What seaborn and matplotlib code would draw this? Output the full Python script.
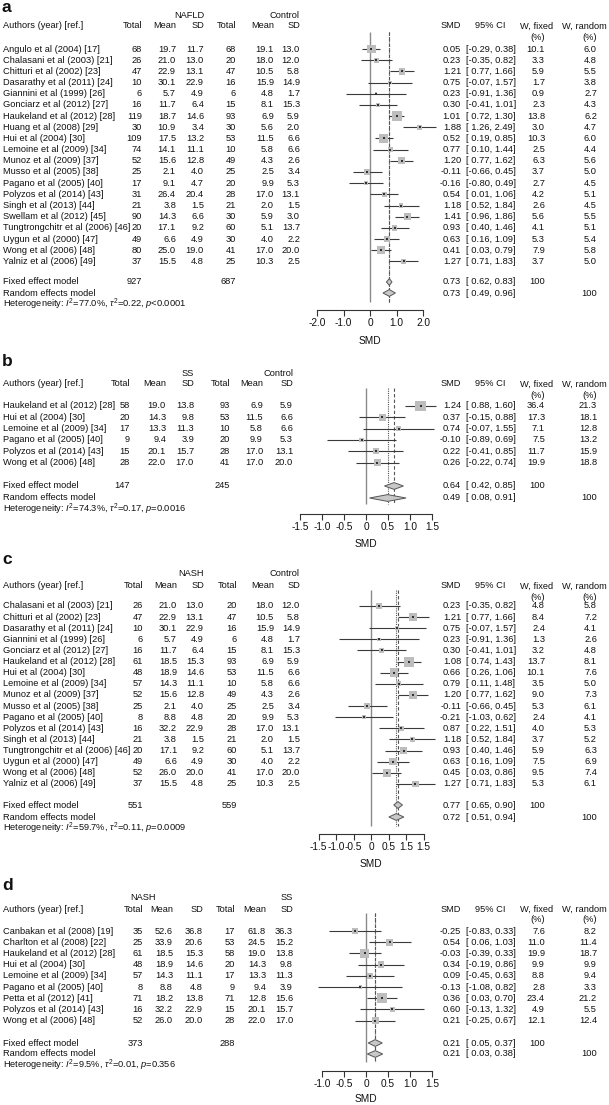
import numpy as np
import pandas as pd
import matplotlib
matplotlib.use("Agg")
import matplotlib.pyplot as plt
import seaborn as sns
from matplotlib.patches import Polygon

sns.set_style("white")
plt.rcParams['font.family'] = ['Liberation Sans', 'DejaVu Sans']
plt.rcParams['mathtext.fontset'] = 'custom'
plt.rcParams['mathtext.rm'] = 'Liberation Sans'
plt.rcParams['mathtext.it'] = 'Liberation Sans:italic'

# ------------------------------------------------------------------ data
# Panel a: NAFLD vs Control
a_study = ["Angulo et al (2004) [17]", "Chalasani et al (2003) [21]", "Chitturi et al (2002) [23]",
           "Dasarathy et al (2011) [24]", "Giannini et al (1999) [26]", "Gonciarz et al (2012) [27]",
           "Haukeland et al (2012) [28]", "Huang et al (2008) [29]", "Hui et al (2004) [30]",
           "Lemoine et al (2009) [34]", "Munoz et al (2009) [37]", "Musso et al (2005) [38]",
           "Pagano et al (2005) [40]", "Polyzos et al (2014) [43]", "Singh et al (2013) [44]",
           "Swellam et al (2012) [45]", "Tungtrongchitr et al (2006) [46]", "Uygun et al (2000) [47]",
           "Wong et al (2006) [48]", "Yalniz et al (2006) [49]"]
a_e_total = [68, 26, 47, 10, 6, 16, 119, 30, 109, 74, 52, 25, 17, 31, 21, 90, 20, 49, 80, 37]
a_e_mean = [19.7, 21.0, 22.9, 30.1, 5.7, 11.7, 18.7, 10.9, 17.5, 14.1, 15.6, 2.1, 9.1, 26.4, 3.8, 14.3, 17.1, 6.6, 25.0, 15.5]
a_e_sd = [11.7, 13.0, 13.1, 22.9, 4.9, 6.4, 14.6, 3.4, 13.2, 11.1, 12.8, 4.0, 4.7, 20.4, 1.5, 6.6, 9.2, 4.9, 19.0, 4.8]
a_c_total = [68, 20, 47, 16, 6, 15, 93, 30, 53, 10, 49, 25, 20, 28, 21, 30, 60, 30, 41, 25]
a_c_mean = [19.1, 18.0, 10.5, 15.9, 4.8, 8.1, 6.9, 5.6, 11.5, 5.8, 4.3, 2.5, 9.9, 17.0, 2.0, 5.9, 5.1, 4.0, 17.0, 10.3]
a_c_sd = [13.0, 12.0, 5.8, 14.9, 1.7, 15.3, 5.9, 2.0, 6.6, 6.6, 2.6, 3.4, 5.3, 13.1, 1.5, 3.0, 13.7, 2.2, 20.0, 2.5]
a_smd = [0.05, 0.23, 1.21, 0.75, 0.23, 0.30, 1.01, 1.88, 0.52, 0.77, 1.20, -0.11, -0.16, 0.54, 1.18, 1.41, 0.93, 0.63, 0.41, 1.27]
a_lo = [-0.29, -0.35, 0.77, -0.07, -0.91, -0.41, 0.72, 1.26, 0.19, 0.10, 0.77, -0.66, -0.80, 0.01, 0.52, 0.96, 0.40, 0.16, 0.03, 0.71]
a_hi = [0.38, 0.82, 1.66, 1.57, 1.36, 1.01, 1.30, 2.49, 0.85, 1.44, 1.62, 0.45, 0.49, 1.06, 1.84, 1.86, 1.46, 1.09, 0.79, 1.83]
a_wfix = [10.1, 3.3, 5.9, 1.7, 0.9, 2.3, 13.8, 3.0, 10.3, 2.5, 6.3, 3.7, 2.7, 4.2, 2.6, 5.6, 4.1, 5.3, 7.9, 3.7]
a_wran = [6.0, 4.8, 5.5, 3.8, 2.7, 4.3, 6.2, 4.7, 6.0, 4.4, 5.6, 5.0, 4.5, 5.1, 4.5, 5.5, 5.1, 5.4, 5.8, 5.0]
a_groups = ["NAFLD", "Control"]
a_totals = [927, 687]
a_fixed = [0.73, 0.62, 0.83]
a_random = [0.73, 0.49, 0.96]
a_het = ["77.0%", "0.22", "<0.0001"]
a_ticks = [-2.0, -1.0, 0.0, 1.0, 2.0]
a_ticklabels = ["-2.0", "-1.0", "0", "1.0", "2.0"]

# Panel b: SS vs Control
b_study = ["Haukeland et al (2012) [28]", "Hui et al (2004) [30]", "Lemoine et al (2009) [34]",
           "Pagano et al (2005) [40]", "Polyzos et al (2014) [43]", "Wong et al (2006) [48]"]
b_e_total = [58, 20, 17, 9, 15, 28]
b_e_mean = [19.0, 14.3, 13.3, 9.4, 20.1, 22.0]
b_e_sd = [13.8, 9.8, 11.3, 3.9, 15.7, 17.0]
b_c_total = [93, 53, 10, 20, 28, 41]
b_c_mean = [6.9, 11.5, 5.8, 9.9, 17.0, 17.0]
b_c_sd = [5.9, 6.6, 6.6, 5.3, 13.1, 20.0]
b_smd = [1.24, 0.37, 0.74, -0.10, 0.22, 0.26]
b_lo = [0.88, -0.15, -0.07, -0.89, -0.41, -0.22]
b_hi = [1.60, 0.88, 1.55, 0.69, 0.85, 0.74]
b_wfix = [36.4, 17.3, 7.1, 7.5, 11.7, 19.9]
b_wran = [21.3, 18.1, 12.8, 13.2, 15.9, 18.8]
b_groups = ["SS", "Control"]
b_totals = [147, 245]
b_fixed = [0.64, 0.42, 0.85]
b_random = [0.49, 0.08, 0.91]
b_het = ["74.3%", "0.17", "=0.0016"]
b_ticks = [-1.5, -1.0, -0.5, 0.0, 0.5, 1.0, 1.5]
b_ticklabels = ["-1.5", "-1.0", "-0.5", "0", "0.5", "1.0", "1.5"]

# Panel c: NASH vs Control
c_study = ["Chalasani et al (2003) [21]", "Chitturi et al (2002) [23]", "Dasarathy et al (2011) [24]",
           "Giannini et al (1999) [26]", "Gonciarz et al (2012) [27]", "Haukeland et al (2012) [28]",
           "Hui et al (2004) [30]", "Lemoine et al (2009) [34]", "Munoz et al (2009) [37]",
           "Musso et al (2005) [38]", "Pagano et al (2005) [40]", "Polyzos et al (2014) [43]",
           "Singh et al (2013) [44]", "Tungtrongchitr et al (2006) [46]", "Uygun et al (2000) [47]",
           "Wong et al (2006) [48]", "Yalniz et al (2006) [49]"]
c_e_total = [26, 47, 10, 6, 16, 61, 48, 57, 52, 25, 8, 16, 21, 20, 49, 52, 37]
c_e_mean = [21.0, 22.9, 30.1, 5.7, 11.7, 18.5, 18.9, 14.3, 15.6, 2.1, 8.8, 32.2, 3.8, 17.1, 6.6, 26.0, 15.5]
c_e_sd = [13.0, 13.1, 22.9, 4.9, 6.4, 15.3, 14.6, 11.1, 12.8, 4.0, 4.8, 22.9, 1.5, 9.2, 4.9, 20.0, 4.8]
c_c_total = [20, 47, 16, 6, 15, 93, 53, 10, 49, 25, 20, 28, 21, 60, 30, 41, 25]
c_c_mean = [18.0, 10.5, 15.9, 4.8, 8.1, 6.9, 11.5, 5.8, 4.3, 2.5, 9.9, 17.0, 2.0, 5.1, 4.0, 17.0, 10.3]
c_c_sd = [12.0, 5.8, 14.9, 1.7, 15.3, 5.9, 6.6, 6.6, 2.6, 3.4, 5.3, 13.1, 1.5, 13.7, 2.2, 20.0, 2.5]
c_smd = [0.23, 1.21, 0.75, 0.23, 0.30, 1.08, 0.66, 0.79, 1.20, -0.11, -0.21, 0.87, 1.18, 0.93, 0.63, 0.45, 1.27]
c_lo = [-0.35, 0.77, -0.07, -0.91, -0.41, 0.74, 0.26, 0.11, 0.77, -0.66, -1.03, 0.22, 0.52, 0.40, 0.16, 0.03, 0.71]
c_hi = [0.82, 1.66, 1.57, 1.36, 1.01, 1.43, 1.06, 1.48, 1.62, 0.45, 0.62, 1.51, 1.84, 1.46, 1.09, 0.86, 1.83]
c_wfix = [4.8, 8.4, 2.4, 1.3, 3.2, 13.7, 10.1, 3.5, 9.0, 5.3, 2.4, 4.0, 3.7, 5.9, 7.5, 9.5, 5.3]
c_wran = [5.8, 7.2, 4.1, 2.6, 4.8, 8.1, 7.6, 5.0, 7.3, 6.1, 4.1, 5.3, 5.2, 6.3, 6.9, 7.4, 6.1]
c_groups = ["NASH", "Control"]
c_totals = [551, 559]
c_fixed = [0.77, 0.65, 0.90]
c_random = [0.72, 0.51, 0.94]
c_het = ["59.7%", "0.11", "=0.0009"]
c_ticks = [-1.5, -1.0, -0.5, 0.0, 0.5, 1.0, 1.5]
c_ticklabels = ["-1.5", "-1.0", "-0.5", "0", "0.5", "1.5", "1.5"]

# Panel d: NASH vs SS
d_study = ["Canbakan et al (2008) [19]", "Charlton et al (2008) [22]", "Haukeland et al (2012) [28]",
           "Hui et al (2004) [30]", "Lemoine et al (2009) [34]", "Pagano et al (2005) [40]",
           "Petta et al (2012) [41]", "Polyzos et al (2014) [43]", "Wong et al (2006) [48]"]
d_e_total = [35, 25, 61, 48, 57, 8, 71, 16, 52]
d_e_mean = [52.6, 33.9, 18.5, 18.9, 14.3, 8.8, 18.2, 32.2, 26.0]
d_e_sd = [36.8, 20.6, 15.3, 14.6, 11.1, 4.8, 13.8, 22.9, 20.0]
d_c_total = [17, 53, 58, 20, 17, 9, 71, 15, 28]
d_c_mean = [61.8, 24.5, 19.0, 14.3, 13.3, 9.4, 12.8, 20.1, 22.0]
d_c_sd = [36.3, 15.2, 13.8, 9.8, 11.3, 3.9, 15.6, 15.7, 17.0]
d_smd = [-0.25, 0.54, -0.03, 0.34, 0.09, -0.13, 0.36, 0.60, 0.21]
d_lo = [-0.83, 0.06, -0.39, -0.19, -0.45, -1.08, 0.03, -0.13, -0.25]
d_hi = [0.33, 1.03, 0.33, 0.86, 0.63, 0.82, 0.70, 1.32, 0.67]
d_wfix = [7.6, 11.0, 19.9, 9.9, 8.8, 2.8, 23.4, 4.9, 12.1]
d_wran = [8.2, 11.4, 18.7, 9.9, 9.4, 3.3, 21.2, 5.5, 12.4]
d_groups = ["NASH", "SS"]
d_totals = [373, 288]
d_fixed = [0.21, 0.05, 0.37]
d_random = [0.21, 0.03, 0.38]
d_het = ["9.5%", "0.01", "=0.356"]
d_ticks = [-1.0, -0.5, 0.0, 0.5, 1.0, 1.5]
d_ticklabels = ["-1.0", "-0.5", "0", "0.5", "1.0", "1.5"]

panel_labels = ["a", "b", "c", "d"]

# ------------------------------------------------------------------ layout (pixels)
W, H = 609, 1105
layouts = {
    "a": dict(label_y=8, grp_y=15, head_y=26, row0=49, dy=11.18, fixed_y=282, rand_y=293, het_y=304,
              axis_y=310, xlab_y=341, vtop=32, vbot=302, zero=370, unit=26.5,
              cols=(142, 176, 204, 236, 274, 300), grp_x=(204, 300)),
    "b": dict(label_y=362, grp_y=373, head_y=384, row0=406, dy=11.3, fixed_y=486, rand_y=498, het_y=509,
              axis_y=514, xlab_y=544, vtop=388, vbot=504, zero=366, unit=44.0,
              cols=(130, 166, 194, 230, 263, 293), grp_x=(194, 293)),
    "c": dict(label_y=560, grp_y=574, head_y=586, row0=606, dy=11.12, fixed_y=805, rand_y=817, het_y=828,
              axis_y=834, xlab_y=864, vtop=590, vbot=826, zero=371, unit=35.0,
              cols=(143, 177, 204, 237, 274, 300), grp_x=(204, 300)),
    "d": dict(label_y=885, grp_y=897, head_y=909, row0=931, dy=11.2, fixed_y=1043, rand_y=1054, het_y=1065,
              axis_y=1071, xlab_y=1099, vtop=913, vbot=1062, zero=366, unit=44.0,
              cols=(143, 173, 203, 235, 266, 293), grp_x=(156, 293)),
}
SMD_X, CI_X, WF_X, WR_X = 461, 466, 545, 597
FS = 6.7
TXT = "#111111"

fig = plt.figure(figsize=(W / 100, H / 100), dpi=100)
canvas = fig.add_axes([0, 0, 1, 1])
canvas.set_xlim(0, W)
canvas.set_ylim(H, 0)
canvas.axis("off")


def T(x, y, s, ha="left", fs=FS, **kw):
    canvas.text(x, y, s, ha=ha, va="center", fontsize=fs, color=TXT, **kw)


def ci_str(lo, hi):
    return "[" + f"{lo:5.2f}" + ", " + f"{hi:.2f}" + "]"


panels = {
    "a": (a_study, a_e_total, a_e_mean, a_e_sd, a_c_total, a_c_mean, a_c_sd, a_smd, a_lo, a_hi, a_wfix, a_wran,
          a_groups, a_totals, a_fixed, a_random, a_het, a_ticks, a_ticklabels),
    "b": (b_study, b_e_total, b_e_mean, b_e_sd, b_c_total, b_c_mean, b_c_sd, b_smd, b_lo, b_hi, b_wfix, b_wran,
          b_groups, b_totals, b_fixed, b_random, b_het, b_ticks, b_ticklabels),
    "c": (c_study, c_e_total, c_e_mean, c_e_sd, c_c_total, c_c_mean, c_c_sd, c_smd, c_lo, c_hi, c_wfix, c_wran,
          c_groups, c_totals, c_fixed, c_random, c_het, c_ticks, c_ticklabels),
    "d": (d_study, d_e_total, d_e_mean, d_e_sd, d_c_total, d_c_mean, d_c_sd, d_smd, d_lo, d_hi, d_wfix, d_wran,
          d_groups, d_totals, d_fixed, d_random, d_het, d_ticks, d_ticklabels),
}

for key in panel_labels:
    (study, et, em, esd, ct, cm, csd, smd, lo, hi, wf, wr,
     groups, totals, fixed, rand, het, ticks, ticklabels) = panels[key]
    L = layouts[key]
    n = len(study)
    ys = L["row0"] + L["dy"] * np.arange(n)
    cols = L["cols"]

    # ----- left table
    T(2, L["label_y"], key, fs=12.5, fontweight="bold")
    T(L["grp_x"][0], L["grp_y"], groups[0], ha="right")
    T(L["grp_x"][1], L["grp_y"], groups[1], ha="right")
    T(3, L["head_y"], "Authors (year) [ref.]")
    for x, h in zip(cols, ["Total", "Mean", "SD", "Total", "Mean", "SD"]):
        T(x, L["head_y"], h, ha="right")
    for i in range(n):
        y = ys[i]
        T(3, y, study[i])
        T(cols[0], y, f"{et[i]}", ha="right")
        T(cols[1], y, f"{em[i]:.1f}", ha="right")
        T(cols[2], y, f"{esd[i]:.1f}", ha="right")
        T(cols[3], y, f"{ct[i]}", ha="right")
        T(cols[4], y, f"{cm[i]:.1f}", ha="right")
        T(cols[5], y, f"{csd[i]:.1f}", ha="right")
        T(SMD_X, y, f"{smd[i]:.2f}", ha="right")
        T(CI_X, y, ci_str(lo[i], hi[i]))
        T(WF_X, y, f"{wf[i]:.1f}", ha="right")
        T(WR_X, y, f"{wr[i]:.1f}", ha="right")
    T(3, L["fixed_y"], "Fixed effect model")
    T(cols[0], L["fixed_y"], f"{totals[0]}", ha="right")
    T(cols[3], L["fixed_y"], f"{totals[1]}", ha="right")
    T(3, L["rand_y"], "Random effects model")
    T(3, L["het_y"], r"Heterogeneity: $I^2$=" + het[0] + r", $\tau^2$=" + het[1] + r", $p$" + het[2])

    # ----- right table
    T(SMD_X, L["head_y"], "SMD", ha="right")
    T(490, L["head_y"], "95% CI", ha="center")
    T(537, L["head_y"], "W, fixed", ha="center")
    T(538, L["head_y"] + 11, "(%)", ha="center")
    T(607, L["head_y"], "W, random", ha="right")
    T(590, L["head_y"] + 11, "(%)", ha="center")
    T(SMD_X, L["fixed_y"], f"{fixed[0]:.2f}", ha="right")
    T(CI_X, L["fixed_y"], ci_str(fixed[1], fixed[2]))
    T(WF_X, L["fixed_y"], "100", ha="right")
    T(SMD_X, L["rand_y"], f"{rand[0]:.2f}", ha="right")
    T(CI_X, L["rand_y"], ci_str(rand[1], rand[2]))
    T(WR_X, L["rand_y"], "100", ha="right")

    # ----- forest axes
    left_px, right_px = 280, 452
    top_px, bot_px = L["vtop"] - 4, L["axis_y"] + 1
    ax = fig.add_axes([left_px / W, 1 - bot_px / H, (right_px - left_px) / W, (bot_px - top_px) / H])
    ax.set_facecolor("none")
    ax.set_xlim((left_px - L["zero"]) / L["unit"], (right_px - L["zero"]) / L["unit"])
    ax.set_ylim(bot_px, top_px)

    df = pd.DataFrame({"smd": smd, "y": ys, "lo": lo, "hi": hi, "w": wf})
    ax.vlines(0, L["vtop"], L["vbot"], color="#8a8a8a", lw=1.0, zorder=1)
    ax.vlines(fixed[0], L["vtop"], L["vbot"], color="#555555", lw=0.8, linestyles=(0, (3, 2)), zorder=1)
    ax.vlines(rand[0], L["vtop"], L["vbot"], color="#555555", lw=0.8, linestyles=(0, (1, 1)), zorder=1)
    ax.hlines(df["y"], df["lo"], df["hi"], color="#3a3a3a", lw=0.8, zorder=2)
    wmax = df["w"].max()
    k = (7.3 ** 2) / wmax
    sns.scatterplot(data=df, x="smd", y="y", size="w", sizes=(k * df["w"].min(), k * wmax),
                    size_norm=(df["w"].min(), wmax), marker="s", color="#bdbdbd", linewidth=0,
                    legend=False, ax=ax, zorder=3)
    sns.scatterplot(data=df, x="smd", y="y", marker="s", s=1.6, color="#333333", linewidth=0,
                    legend=False, ax=ax, zorder=4)
    for (est, l, h), yy in ((fixed, L["fixed_y"]), (rand, L["rand_y"])):
        ax.add_patch(Polygon([(l, yy), (est, yy - 3.4), (h, yy), (est, yy + 3.4)], closed=True,
                             facecolor="#c8c8c8", edgecolor="#555555", lw=0.7, zorder=3))

    for s in ["top", "right", "left"]:
        ax.spines[s].set_visible(False)
    ax.spines["bottom"].set_position(("data", L["axis_y"]))
    ax.spines["bottom"].set_bounds(ticks[0], ticks[-1])
    ax.spines["bottom"].set_color("#333333")
    ax.spines["bottom"].set_linewidth(0.8)
    ax.set_xticks(ticks)
    ax.set_xticklabels(ticklabels, fontsize=7.3, color=TXT)
    ax.tick_params(axis="x", direction="out", length=4, width=0.8, color="#333333", pad=2, bottom=True)
    ax.set_yticks([])
    ax.set_xlabel("")
    ax.set_ylabel("")
    T(L["zero"], L["xlab_y"], "SMD", ha="center", fs=7.3)

fig.savefig("out.png", dpi=100)
